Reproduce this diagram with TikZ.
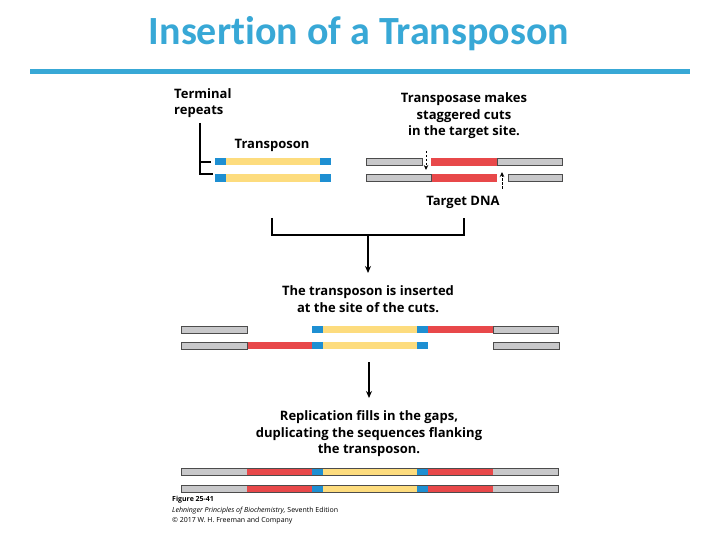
\documentclass[tikz,border=0pt]{standalone}
\usepackage{fontspec}
\setmainfont{Open Sans}
\newfontfamily\titlefont[Ligatures=NoCommon]{Carlito}
\usetikzlibrary{arrows.meta}
\definecolor{titleblue}{RGB}{56,168,214}
\definecolor{dnagrey}{RGB}{200,200,202}
\definecolor{dnared}{RGB}{232,72,74}
\definecolor{dnayellow}{RGB}{253,220,126}
\definecolor{dnablue}{RGB}{30,143,210}
\newcommand{\dnaseg}[4]{\fill[#4] (#1,#3-3.6) rectangle (#2,#3+3.6);}
\tikzset{
  lbl/.style={font=\bfseries\fontsize{13}{16.5}\selectfont, align=center, inner sep=0pt},
  brk/.style={line width=1.4pt, black},
  arr/.style={line width=1.2pt, black, -{Stealth[length=7pt,width=6pt]}},
  dasharr/.style={line width=0.9pt, black, dashed, dash pattern=on 2.5pt off 1.5pt, -{Stealth[length=5pt,width=4.5pt]}},
  captext/.style={font=\fontsize{7}{8}\selectfont, anchor=west, inner sep=0pt}
}
\begin{document}
\begin{tikzpicture}[x=1pt,y=-1pt]
\useasboundingbox (0,0) rectangle (720,540);
% title
\node[font=\titlefont\bfseries\fontsize{40}{44}\selectfont, text=titleblue, inner sep=0pt] (title) at (359,34) {Insertion of a Transposon};
\fill[titleblue] (30,69) rectangle (690,74);

% top-left transposon
\node[lbl, align=left, anchor=north west] (term) at (174,88) {Terminal\\repeats};
\node[lbl] (tpn) at (272,145) {Transposon};
\coordinate (bt) at (200,123);
\coordinate (bb) at (200,174);
\draw[brk] (bt) -- (bb) -- (213,174);
\draw[brk] (200,162) -- (211,162);
\foreach \yy in {161.5,178} {
  \dnaseg{215}{226}{\yy}{dnablue}
  \dnaseg{226}{320}{\yy}{dnayellow}
  \dnaseg{320}{331}{\yy}{dnablue}
}

% target DNA
\node[lbl] (tps) at (464,116) {Transposase makes\\staggered cuts\\in the target site.};
\dnaseg{366}{422}{162}{dnagrey}
\dnaseg{431}{497}{162}{dnared}
\dnaseg{497}{562}{162}{dnagrey}
\dnaseg{366}{431}{178}{dnagrey}
\dnaseg{431}{497}{178}{dnared}
\dnaseg{508}{562}{178}{dnagrey}
\draw[black!70, line width=0.4pt] (366,158.4) rectangle (422,165.6);
\draw[black!70, line width=0.4pt] (497,158.4) rectangle (562,165.6);
\draw[black!70, line width=0.4pt] (366,174.4) rectangle (431,181.6);
\draw[black!70, line width=0.4pt] (508,174.4) rectangle (562,181.6);
\coordinate (c1s) at (426,151);
\coordinate (c1e) at (426,170);
\coordinate (c2s) at (502,189);
\coordinate (c2e) at (502,172);
\draw[dasharr] (c1s) -- (c1e);
\draw[dasharr] (c2s) -- (c2e);
\node[lbl] (tdna) at (463,202) {Target DNA};

% bracket and arrow 1
\coordinate (bl) at (272,218);
\coordinate (br) at (464,218);
\coordinate (bm) at (368,235);
\coordinate (a1e) at (368,273);
\draw[brk] (bl) |- (bm) -| (br);
\draw[arr] (bm) -- (a1e);
\node[lbl] (ins) at (368,299) {The transposon is inserted\\at the site of the cuts.};

% middle strands
\dnaseg{181}{247}{329.5}{dnagrey}
\dnaseg{312}{323}{329.5}{dnablue}
\dnaseg{323}{417}{329.5}{dnayellow}
\dnaseg{417}{428}{329.5}{dnablue}
\dnaseg{428}{493}{329.5}{dnared}
\dnaseg{493}{558}{329.5}{dnagrey}
\dnaseg{181}{247}{345.5}{dnagrey}
\dnaseg{247}{312}{345.5}{dnared}
\dnaseg{312}{323}{345.5}{dnablue}
\dnaseg{323}{417}{345.5}{dnayellow}
\dnaseg{417}{428}{345.5}{dnablue}
\dnaseg{493}{559}{345.5}{dnagrey}
\draw[black!70, line width=0.4pt] (181,325.9) rectangle (247,333.1);
\draw[black!70, line width=0.4pt] (493,325.9) rectangle (558,333.1);
\draw[black!70, line width=0.4pt] (181,341.9) rectangle (247,349.1);
\draw[black!70, line width=0.4pt] (493,341.9) rectangle (559,349.1);

% arrow 2
\coordinate (a2s) at (369,362);
\coordinate (a2e) at (369,398);
\draw[arr] (a2s) -- (a2e);
\node[lbl] (rep) at (369,434) {Replication fills in the gaps,\\duplicating the sequences flanking\\the transposon.};

% bottom strands
\foreach \yy in {472,489} {
  \dnaseg{181}{247}{\yy}{dnagrey}
  \dnaseg{247}{312}{\yy}{dnared}
  \dnaseg{312}{323}{\yy}{dnablue}
  \dnaseg{323}{417}{\yy}{dnayellow}
  \dnaseg{417}{428}{\yy}{dnablue}
  \dnaseg{428}{493}{\yy}{dnared}
  \dnaseg{493}{558}{\yy}{dnagrey}
  \draw[black!70, line width=0.4pt] (181,\yy-3.6) rectangle (558,\yy+3.6);
}

% caption
\node[captext, font=\bfseries\fontsize{7}{8}\selectfont] (fig) at (172,500) {Figure 25-41};
\node[captext, font=\itshape\fontsize{7}{8}\selectfont] (book) at (172,511) {Lehninger Principles of Biochemistry, \upshape Seventh Edition};
\node[captext] (copy) at (172,521) {© 2017 W. H. Freeman and Company};
\end{tikzpicture}
\end{document}
